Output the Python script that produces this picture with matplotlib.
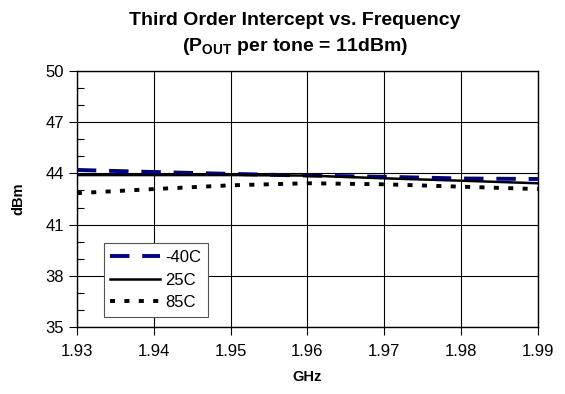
import numpy as np
import matplotlib
matplotlib.use("Agg")
import matplotlib.pyplot as plt
from matplotlib.ticker import FixedLocator, MultipleLocator

plt.rcParams['font.family'] = ['Liberation Sans', 'DejaVu Sans']
plt.rcParams['mathtext.fontset'] = 'custom'
plt.rcParams['mathtext.rm'] = 'Liberation Sans'
plt.rcParams['mathtext.bf'] = 'Liberation Sans:bold'

freq = [1.93, 1.94, 1.95, 1.96, 1.97, 1.98, 1.99]
t_m40 = [44.2, 44.08, 43.97, 43.87, 43.8, 43.7, 43.67]
t_25 = [43.9, 43.9, 43.9, 43.87, 43.71, 43.57, 43.42]
t_85 = [42.84, 43.08, 43.3, 43.42, 43.36, 43.22, 43.08]
yticks = [35, 38, 41, 44, 47, 50]

fig = plt.figure(figsize=(5.65, 3.94), dpi=100)
ax = fig.add_axes([0.136, 0.170, 0.816, 0.650])

ax.plot(freq, t_m40, color='#000080', lw=2.8, dashes=(5, 3.3), label='-40C')
ax.plot(freq, t_25, color='black', lw=1.8, label='25C')
ax.plot(freq, t_85, color='black', lw=2.8, dashes=(1.3, 2.4), label='85C')

ax.set_xlim(1.93, 1.99)
ax.set_ylim(35, 50)
ax.set_xticks(freq)
ax.set_xticklabels(['%.2f' % f for f in freq])
ax.yaxis.set_major_locator(FixedLocator(yticks))
ax.yaxis.set_minor_locator(MultipleLocator(1))
ax.grid(True, which='major', color='black', lw=0.8)
ax.tick_params(axis='both', which='major', labelsize=12, length=6, width=0.8, direction='out')
ax.tick_params(axis='x', which='major', pad=6)
ax.tick_params(axis='y', which='minor', length=5, width=0.8, direction='in')
for s in ax.spines.values():
    s.set_linewidth(1.0)

ax.set_xlabel('GHz', fontsize=10.5, fontweight='bold', labelpad=8)
ax.set_ylabel('dBm', fontsize=10.5, fontweight='bold', labelpad=14)

fig.text(0.522, 0.949, 'Third Order Intercept vs. Frequency', ha='center', va='center',
         fontsize=14, fontweight='bold')
fig.text(0.522, 0.883, r'(P$_{\mathbf{OUT}}$ per tone = 11dBm)', ha='center', va='center',
         fontsize=14, fontweight='bold')

leg = ax.legend(loc='lower left', bbox_to_anchor=(0.058, 0.04), fontsize=12, frameon=True,
                fancybox=False, edgecolor='#555555', framealpha=1, handlelength=3.0,
                handletextpad=0.3, borderpad=0.4, labelspacing=0.45, borderaxespad=0)
leg.get_frame().set_linewidth(0.8)

fig.savefig('out.png', dpi=100)
